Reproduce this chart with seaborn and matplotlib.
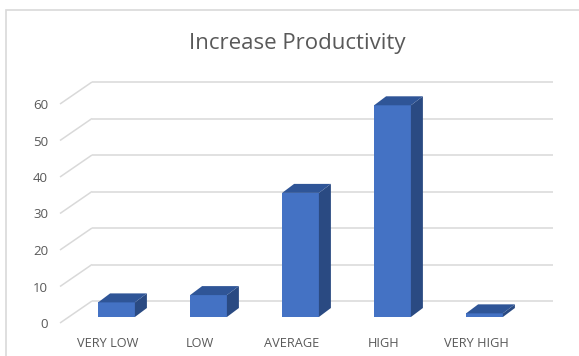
import numpy as np
import pandas as pd
import matplotlib
matplotlib.use("Agg")
import matplotlib.pyplot as plt
import seaborn as sns
from matplotlib.patches import Polygon, Rectangle

# ---- data ----
categories = ["VERY LOW", "LOW", "AVERAGE", "HIGH", "VERY HIGH"]
values = [4, 6, 34, 58, 1]
y_ticks = [0, 10, 20, 30, 40, 50, 60]
title = "Increase Productivity"

W, H = 579, 356
sns.set_theme(style="white")
plt.rcParams['font.family'] = ['Open Sans', 'DejaVu Sans']

TEXT = "#595959"
GRID = "#d9d9d9"
FRONT = "#4472C4"
TOP = "#2F5597"
SIDE = "#2A4A82"

fig = plt.figure(figsize=(W / 100, H / 100), dpi=100)
fig.patch.set_facecolor("white")

# pixel mapping of the front plane
PX_CAT0, PX_STEP = 108, 92
PY_ZERO, PY_UNIT = 323, 3.65
ax_l, ax_r, ax_t, ax_b = 55, 570, 60, 335
ax = fig.add_axes([ax_l / W, (H - ax_b) / H, (ax_r - ax_l) / W, (ax_b - ax_t) / H])

df = pd.DataFrame({"category": categories, "value": values})
sns.barplot(data=df, x="category", y="value", color=FRONT, saturation=1,
            width=0.40, linewidth=0, ax=ax, zorder=3)

ax.set_xlim((ax_l - PX_CAT0) / PX_STEP, (ax_r - PX_CAT0) / PX_STEP)
ax.set_ylim((PY_ZERO - ax_b) / PY_UNIT, (PY_ZERO - ax_t) / PY_UNIT)

# 3D geometry (data units)
def dxu(px): return px / PX_STEP
def dyu(px): return px / PY_UNIT

wall_dx, wall_dy = dxu(32), dyu(22)     # full depth of the floor
bar_dx, bar_dy = dxu(8.5), dyu(6)       # front of bars inside depth
dep_dx, dep_dy = dxu(12), dyu(9)        # bar depth
x_front_left = (60 - PX_CAT0) / PX_STEP
x_back_right = (553 - PX_CAT0) / PX_STEP

# gridlines: back wall + floor/side diagonals
for v in y_ticks:
    ax.plot([x_front_left, x_front_left + wall_dx], [v, v + wall_dy],
            color=GRID, lw=1.1, zorder=0.5, solid_capstyle="butt")
    ax.plot([x_front_left + wall_dx, x_back_right], [v + wall_dy, v + wall_dy],
            color=GRID, lw=1.1, zorder=0.5, solid_capstyle="butt")

# shift bars into depth and add top / side faces
for p in list(ax.patches):
    x0 = p.get_x() + bar_dx
    w = p.get_width()
    h = p.get_height()
    p.set_x(x0)
    p.set_y(bar_dy)
    y0, y1 = bar_dy, bar_dy + h
    top = Polygon([(x0, y1), (x0 + w, y1), (x0 + w + dep_dx, y1 + dep_dy),
                   (x0 + dep_dx, y1 + dep_dy)], closed=True,
                  facecolor=TOP, edgecolor="none", zorder=3)
    side = Polygon([(x0 + w, y0), (x0 + w + dep_dx, y0 + dep_dy),
                    (x0 + w + dep_dx, y1 + dep_dy), (x0 + w, y1)], closed=True,
                   facecolor=SIDE, edgecolor="none", zorder=3)
    ax.add_patch(side)
    ax.add_patch(top)

ax.set_yticks(y_ticks)
ax.set_yticklabels([str(t) for t in y_ticks])
ax.set_xticks(range(len(categories)))
ax.set_xticklabels(categories)
ax.tick_params(axis="y", length=0, pad=5, labelsize=9.5, labelcolor=TEXT)
ax.tick_params(axis="x", length=0, pad=1.5, labelsize=9.2, labelcolor=TEXT)
ax.set_xlabel("")
ax.set_ylabel("")
for s in ax.spines.values():
    s.set_visible(False)
ax.grid(False)
ax.patch.set_alpha(0)

fig.text(297 / W, 1 - 43 / H, title, ha="center", va="center",
         fontsize=16, color=TEXT)

# chart border (top and left visible)
fig.add_artist(Rectangle((6 / W, -0.1), 2, (H - 10) / H + 0.1,
                         transform=fig.transFigure, fill=False,
                         edgecolor="#d9d9d9", lw=1.2))

fig.savefig("out.png", dpi=100)
